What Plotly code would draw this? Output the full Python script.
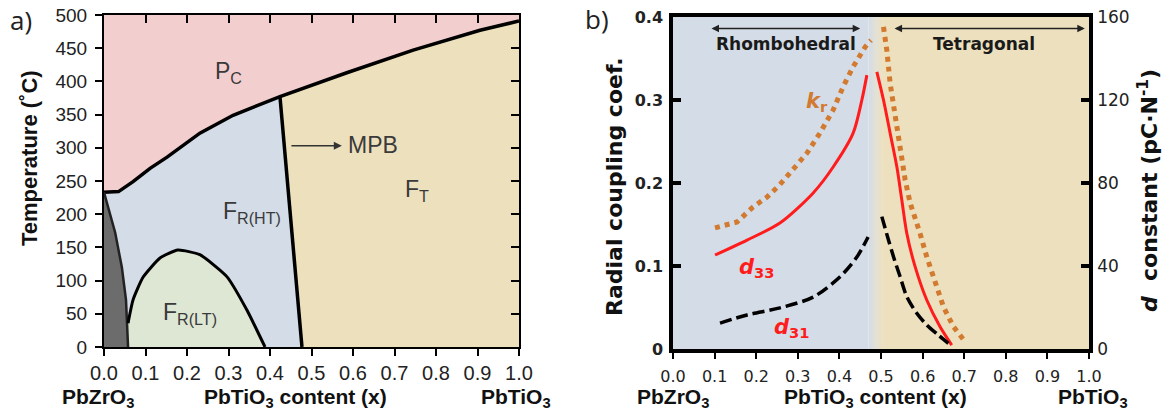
import plotly.graph_objects as go

W, H = 1167, 419

# ---------------- Panel a: PZT phase diagram ----------------
T_MAX = 500
# Curie (paraelectric) boundary
pc_x = [0.0, 0.035, 0.07, 0.111, 0.152, 0.231, 0.311, 0.424, 0.585, 0.745, 0.906, 1.0]
pc_T = [233, 234, 249, 269, 286, 322, 349, 377, 413, 447, 477, 491]
# Morphotropic phase boundary
mpb_x = [0.424, 0.477]
mpb_T = [377, 0]
# Antiferroelectric boundary
afe_x = [0.0, 0.005, 0.027, 0.043, 0.053, 0.058]
afe_T = [233, 221, 172, 120, 71, 0]
# Low-temperature rhombohedral boundary
rlt_x = [0.058, 0.07, 0.094, 0.135, 0.178, 0.231, 0.296, 0.344, 0.388]
rlt_T = [36, 71, 105, 134, 146, 139, 106, 56, 0]

# ---------------- Panel b: properties ----------------
kr_left_x = [0.101, 0.154, 0.192, 0.226, 0.257, 0.288, 0.322, 0.353, 0.385, 0.409, 0.433, 0.462, 0.476]
kr_left = [0.146, 0.153, 0.171, 0.183, 0.198, 0.216, 0.236, 0.260, 0.288, 0.316, 0.340, 0.364, 0.372]
kr_right_x = [0.506, 0.514, 0.522, 0.534, 0.546, 0.558, 0.570, 0.582, 0.594, 0.610, 0.630, 0.650, 0.674, 0.702]
kr_right = [0.388, 0.360, 0.320, 0.280, 0.240, 0.204, 0.176, 0.159, 0.139, 0.111, 0.079, 0.051, 0.027, 0.009]

d33_left_x = [0.101, 0.178, 0.257, 0.337, 0.385, 0.433, 0.454, 0.466]
d33_left = [45.3, 52.5, 60.7, 75.2, 87.7, 104, 120, 132]
d33_right_x = [0.490, 0.506, 0.522, 0.538, 0.550, 0.562, 0.582, 0.610, 0.642, 0.670]
d33_right = [133.6, 120, 104, 87.9, 71.8, 55.8, 39.7, 23.6, 10.7, 1.9]

d31_left_x = [0.113, 0.178, 0.257, 0.337, 0.401, 0.442, 0.469]
d31_left = [12.5, 16.4, 19.8, 25.0, 34.7, 44.3, 54.0]
d31_right_x = [0.502, 0.518, 0.530, 0.546, 0.562, 0.586, 0.610, 0.638, 0.662]
d31_right = [63.8, 52.5, 44.5, 34.8, 25.2, 17.2, 11.6, 6.7, 2.7]

rhombo_end = 0.47
tetra_start = 0.505

# colours
C_PC = "rgb(243,206,207)"
C_RHT = "rgb(211,220,231)"
C_FT = "rgb(237,224,189)"
C_RLT = "rgb(222,230,212)"
C_AFE = "rgb(108,108,108)"
BG_R = (212, 220, 231)
BG_T = (237, 224, 190)
C_KR = "#d27a30"
C_D33 = "#ff1c1c"

ARIAL = "Liberation Sans, Arial"
DEJA = "DejaVu Sans"

fig = go.Figure()

# --- panel a polygons ---
k = pc_x.index(mpb_x[0])
fig.add_trace(go.Scatter(x=pc_x[:k + 1] + [mpb_x[1], 0.0], y=pc_T[:k + 1] + [0, 0],
                         fill="toself", fillcolor=C_RHT, mode="none", xaxis="x", yaxis="y"))
fig.add_trace(go.Scatter(x=[0.0] + pc_x + [1.0], y=[T_MAX] + pc_T + [T_MAX],
                         fill="toself", fillcolor=C_PC, mode="none", xaxis="x", yaxis="y"))
fig.add_trace(go.Scatter(x=pc_x[k:] + [1.0, mpb_x[1]], y=pc_T[k:] + [0, 0],
                         fill="toself", fillcolor=C_FT, mode="none", xaxis="x", yaxis="y"))
fig.add_trace(go.Scatter(x=afe_x + [0.0], y=afe_T + [0],
                         fill="toself", fillcolor=C_AFE, mode="none", xaxis="x", yaxis="y"))
fig.add_trace(go.Scatter(x=rlt_x + [rlt_x[0]], y=rlt_T + [0],
                         fill="toself", fillcolor=C_RLT, mode="none", xaxis="x", yaxis="y"))
# boundaries
fig.add_trace(go.Scatter(x=pc_x, y=pc_T, mode="lines", line=dict(color="black", width=3.5), xaxis="x", yaxis="y"))
fig.add_trace(go.Scatter(x=mpb_x, y=mpb_T, mode="lines", line=dict(color="black", width=3.5), xaxis="x", yaxis="y"))
fig.add_trace(go.Scatter(x=afe_x, y=afe_T, mode="lines", line=dict(color="#222", width=2.5), xaxis="x", yaxis="y"))
fig.add_trace(go.Scatter(x=rlt_x, y=rlt_T, mode="lines", line=dict(color="black", width=3, shape="spline", smoothing=0.5),
                         xaxis="x", yaxis="y"))
# dummy traces for mirror axes
fig.add_trace(go.Scatter(x=[None], y=[None], xaxis="x3", yaxis="y"))
fig.add_trace(go.Scatter(x=[None], y=[None], xaxis="x", yaxis="y3"))

# --- panel b curves ---
fig.add_trace(go.Scatter(x=kr_left_x, y=kr_left, mode="lines", line=dict(color=C_KR, width=5, dash="5px,5px"),
                         xaxis="x2", yaxis="y2"))
fig.add_trace(go.Scatter(x=kr_right_x, y=kr_right, mode="lines", line=dict(color=C_KR, width=5, dash="5px,5px"),
                         xaxis="x2", yaxis="y2"))
fig.add_trace(go.Scatter(x=d33_left_x, y=d33_left, mode="lines", line=dict(color=C_D33, width=3, shape="spline", smoothing=0.8),
                         xaxis="x2", yaxis="y4"))
fig.add_trace(go.Scatter(x=d33_right_x, y=d33_right, mode="lines", line=dict(color=C_D33, width=3, shape="spline", smoothing=0.8),
                         xaxis="x2", yaxis="y4"))
fig.add_trace(go.Scatter(x=d31_left_x, y=d31_left, mode="lines", line=dict(color="black", width=3.5, dash="12px,5px", shape="spline", smoothing=0.8),
                         xaxis="x2", yaxis="y4"))
fig.add_trace(go.Scatter(x=d31_right_x, y=d31_right, mode="lines", line=dict(color="black", width=3.5, dash="12px,5px", shape="spline", smoothing=0.8),
                         xaxis="x2", yaxis="y4"))

# --- panel b background (rhombohedral / gradient / tetragonal) ---
shapes = [
    dict(type="rect", xref="x2", yref="y2", x0=0, x1=rhombo_end, y0=0, y1=0.4,
         fillcolor="rgb(%d,%d,%d)" % BG_R, line=dict(width=0), layer="below"),
    dict(type="rect", xref="x2", yref="y2", x0=tetra_start, x1=1, y0=0, y1=0.4,
         fillcolor="rgb(%d,%d,%d)" % BG_T, line=dict(width=0), layer="below"),
]
n = 14
for i in range(n):
    t = (i + 0.5) / n
    mid = 0.12 * (1 - abs(2 * t - 1))  # slight lightening in the middle
    c = [BG_R[j] + (BG_T[j] - BG_R[j]) * t for j in range(3)]
    c = [int(v + (250 - v) * mid) for v in c]
    w = (tetra_start - rhombo_end) / n
    shapes.append(dict(type="rect", xref="x2", yref="y2", x0=rhombo_end + i * w, x1=rhombo_end + (i + 1) * w + 0.001,
                       y0=0, y1=0.4, fillcolor="rgb(%d,%d,%d)" % tuple(c), line=dict(width=0), layer="below"))

# --- annotations ---
def px(xp, yp):
    return xp / W, 1 - yp / H

ann = []
def pa(text, xp, yp, size, family=ARIAL, angle=0, color="#111"):
    x, y = px(xp, yp)
    ann.append(dict(text=text, x=x, y=y, xref="paper", yref="paper", showarrow=False, textangle=angle,
                    font=dict(family=family, size=size, color=color), xanchor="center", yanchor="middle"))

pa("a)", 21, 20, 26, family="Open Sans", color="#222")
pa("b)", 597, 19, 26, family="Open Sans", color="#222")
pa("<b>Temperature (˚C)</b>", 29, 158, 22, angle=-90)
pa("<b>PbZrO<sub>3</sub></b>", 98, 398, 21)
pa("<b>PbTiO<sub>3</sub> content (x)</b>", 295, 398, 21)
pa("<b>PbTiO<sub>3</sub></b>", 516, 398, 21)
pa("<b>PbZrO<sub>3</sub></b>", 673, 398, 21)
pa("<b>PbTiO<sub>3</sub> content (x)</b>", 875, 398, 21)
pa("<b>PbTiO<sub>3</sub></b>", 1093, 398, 21)
pa("<b>Radial coupling coef.</b>", 614, 187, 22, family=DEJA, angle=-90)
pa("<b><i>d</i>  constant (pC·N<sup>-1</sup>)</b>", 1148, 191, 22, family=DEJA, angle=-90)

def da(text, x, y, xr, yr, size, color, family=ARIAL):
    ann.append(dict(text=text, x=x, y=y, xref=xr, yref=yr, showarrow=False,
                    font=dict(family=family, size=size, color=color)))

LBL = "#3a3a3a"
da("P<sub>C</sub>", 0.299, 414, "x", "y", 23, LBL)
da("F<sub>R(HT)</sub>", 0.357, 203, "x", "y", 23, LBL)
da("MPB", 0.648, 304, "x", "y", 23, LBL)
da("F<sub>T</sub>", 0.754, 236, "x", "y", 23, LBL)
da("F<sub>R(LT)</sub>", 0.207, 51, "x", "y", 23, LBL)
ann.append(dict(text="", x=0.573, y=303, ax=0.448, ay=303, xref="x", yref="y", axref="x", ayref="y",
                showarrow=True, arrowhead=2, arrowsize=1, arrowwidth=1.6, arrowcolor="#333"))

da("<b><i>k</i><sub>r</sub></b>", 0.346, 0.298, "x2", "y2", 21, C_KR, family=DEJA)
da("<b><i>d</i><sub>33</sub></b>", 0.202, 0.0976, "x2", "y2", 21, C_D33, family=DEJA)
da("<b><i>d</i><sub>31</sub></b>", 0.286, 0.025, "x2", "y2", 21, C_D33, family=DEJA)
da("<b>Rhombohedral</b>", 0.272, 0.368, "x2", "y2", 17, "#1a1a1a", family=DEJA)
da("<b>Tetragonal</b>", 0.748, 0.368, "x2", "y2", 17, "#1a1a1a", family=DEJA)
for (x0, x1) in [(0.089, 0.45), (0.529, 0.99)]:
    ann.append(dict(text="", x=x1, y=0.386, ax=x0, ay=0.386, xref="x2", yref="y2", axref="x2", ayref="y2",
                    showarrow=True, arrowhead=2, startarrowhead=2, arrowside="end+start", arrowsize=1,
                    arrowwidth=1.5, arrowcolor="#222"))

dom_ax = [104 / W, 519 / W]
dom_ay = [1 - 347 / H, 1 - 15 / H]
dom_bx = [673 / W, 1089 / W]
dom_by = [1 - 349 / H, 1 - 17 / H]

common = dict(showgrid=False, zeroline=False, linecolor="black", automargin=False)

fig.update_layout(
    template="none",
    width=W, height=H, margin=dict(l=0, r=0, t=0, b=0, pad=0), autosize=False,
    paper_bgcolor="white", plot_bgcolor="rgba(0,0,0,0)", showlegend=False,
    shapes=shapes, annotations=ann,
    xaxis=dict(domain=dom_ax, range=[0, 1], dtick=0.1, tick0=0, tickformat=".1f", ticks="outside",
               ticklen=7, tickwidth=2, tickcolor="black", showline=True, linewidth=2, anchor="y",
               ticklabelstandoff=0, tickfont=dict(family=ARIAL, size=20, color="#222"), **common),
    yaxis=dict(domain=dom_ay, range=[0, T_MAX], dtick=50, ticks="outside", ticklen=7, tickwidth=2,
               tickcolor="black", showline=True, linewidth=2, anchor="x", ticklabelstandoff=4,
               tickfont=dict(family=ARIAL, size=19, color="#222"), **common),
    xaxis3=dict(overlaying="x", side="top", range=[0, 1], dtick=0.1, ticks="inside", ticklen=8, tickwidth=2,
                tickcolor="black", showline=True, linewidth=2, showticklabels=False, anchor="y", **common),
    yaxis3=dict(overlaying="y", side="right", range=[0, T_MAX], dtick=50, ticks="inside", ticklen=8, tickwidth=2,
                tickcolor="black", showline=True, linewidth=2, showticklabels=False, anchor="x", **common),
    xaxis2=dict(domain=dom_bx, range=[0, 1], dtick=0.1, tick0=0, tickformat=".1f", ticks="outside",
                ticklen=6, tickwidth=2, tickcolor="black", showline=True, linewidth=3.5, mirror=True,
                anchor="y2", ticklabelstandoff=4, tickfont=dict(family=DEJA, size=16, color="#222"), **common),
    yaxis2=dict(domain=dom_by, range=[0, 0.4], tickvals=[0, 0.1, 0.2, 0.3, 0.4],
                ticktext=["0", "0.1", "0.2", "0.3", "0.4"], ticks="inside", ticklen=8, tickwidth=3.5,
                tickcolor="black", showline=True, linewidth=3.5, anchor="x2", ticklabelstandoff=3,
                tickfont=dict(family=DEJA, size=16, color="#222", weight="bold"), **common),
    yaxis4=dict(overlaying="y2", side="right", range=[0, 160], dtick=40, ticks="inside", ticklen=8,
                tickwidth=3.5, tickcolor="black", showline=True, linewidth=3.5, anchor="x2",
                ticklabelstandoff=1, tickfont=dict(family=DEJA, size=17, color="#222"), **common),
)

fig.write_html("out.html", config={"displayModeBar": False},
               post_script="document.body.style.margin='0px';")
